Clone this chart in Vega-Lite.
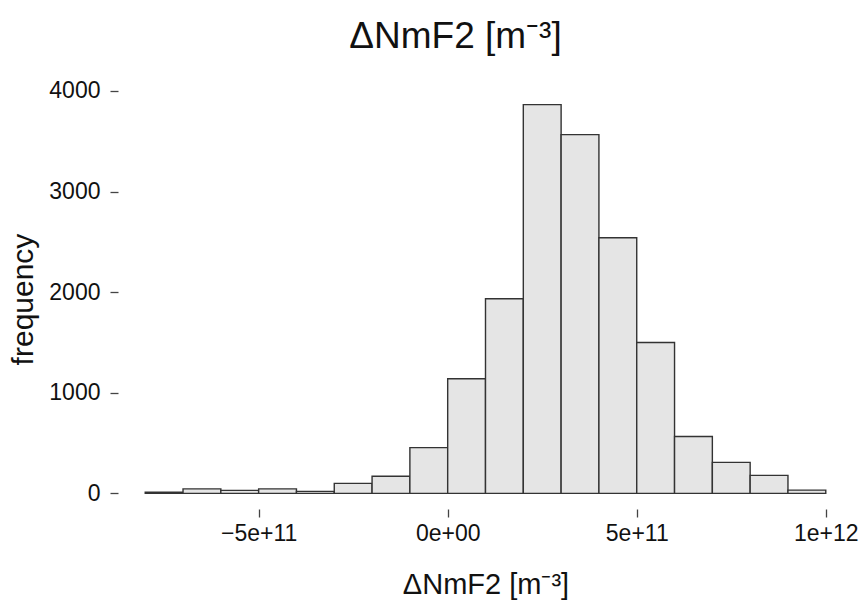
{
  "$schema": "https://vega.github.io/schema/vega-lite/v6.json",
  "width": 735,
  "height": 420,
  "autosize": {"type": "none"},
  "padding": {"left": 118, "top": 89, "right": 9, "bottom": 95},
  "background": "white",
  "config": {
    "font": "Liberation Sans",
    "view": {"stroke": null},
    "axis": {"labelColor": "#111", "titleColor": "#111", "grid": false, "domain": false, "tickColor": "#444", "tickWidth": 1.3, "tickSize": 8, "labelFontSize": 23, "titleFontSize": 26, "titleFontWeight": "normal", "labelFont": "Liberation Sans", "titleFont": "Liberation Sans"}
  },
  "title": {"text": "ΔNmF2 [m⁻³]", "fontSize": 37, "fontWeight": "normal", "color": "#111", "anchor": "middle", "dx": -30, "baseline": "alphabetic", "offset": 38, "dy": 43},
  "datasets": {
    "hist": [
      {"start": -8e11, "end": -7e11, "count": 12},
      {"start": -7e11, "end": -6e11, "count": 45},
      {"start": -6e11, "end": -5e11, "count": 30},
      {"start": -5e11, "end": -4e11, "count": 45},
      {"start": -4e11, "end": -3e11, "count": 20},
      {"start": -3e11, "end": -2e11, "count": 100},
      {"start": -2e11, "end": -1e11, "count": 170},
      {"start": -1e11, "end": 0, "count": 455},
      {"start": 0, "end": 1e11, "count": 1140},
      {"start": 1e11, "end": 2e11, "count": 1935},
      {"start": 2e11, "end": 3e11, "count": 3864},
      {"start": 3e11, "end": 4e11, "count": 3566},
      {"start": 4e11, "end": 5e11, "count": 2540},
      {"start": 5e11, "end": 6e11, "count": 1500},
      {"start": 6e11, "end": 7e11, "count": 566},
      {"start": 7e11, "end": 8e11, "count": 308},
      {"start": 8e11, "end": 9e11, "count": 179},
      {"start": 9e11, "end": 1e12, "count": 33}
    ]
  },
  "layer": [
    {
      "data": {"name": "hist"},
      "mark": {"type": "bar", "fill": "#e5e5e5", "stroke": "#333", "strokeWidth": 1.4},
      "encoding": {
        "x": {"field": "start", "type": "quantitative", "scale": {"domain": [-8.72e11, 1.072e12], "nice": false, "zero": false},
          "axis": {"values": [-5e11, 0, 5e11, 1e12], "labelExpr": "datum.value == 0 ? '0e+00' : datum.value < 0 ? '−5e+11' : datum.value == 5e11 ? '5e+11' : '1e+12'", "labelPadding": 5, "title": "ΔNmF2 [m⁻³]", "titleFontSize": 29, "titlePadding": 25, "labelFlush": false}},
        "x2": {"field": "end"},
        "y": {"field": "count", "type": "quantitative", "scale": {"domain": [-155, 4019], "nice": false, "zero": false},
          "axis": {"values": [0, 1000, 2000, 3000, 4000], "format": "d", "labelAngle": 0, "labelPadding": 10, "title": "frequency", "titleFontSize": 30, "titlePadding": 10, "labelFlush": false}},
        "y2": {"datum": 0}
      }
    },
    {
      "mark": {"type": "rule", "color": "#444", "strokeWidth": 1.3},
      "encoding": {
        "x": {"datum": -5e11, "type": "quantitative"},
        "x2": {"datum": 1e12},
        "y": {"datum": -155, "type": "quantitative"}
      }
    },
    {
      "mark": {"type": "rule", "color": "#444", "strokeWidth": 1.3},
      "encoding": {
        "x": {"datum": -8.72e11, "type": "quantitative"},
        "y": {"datum": 0, "type": "quantitative"},
        "y2": {"datum": 4000}
      }
    }
  ]
}
